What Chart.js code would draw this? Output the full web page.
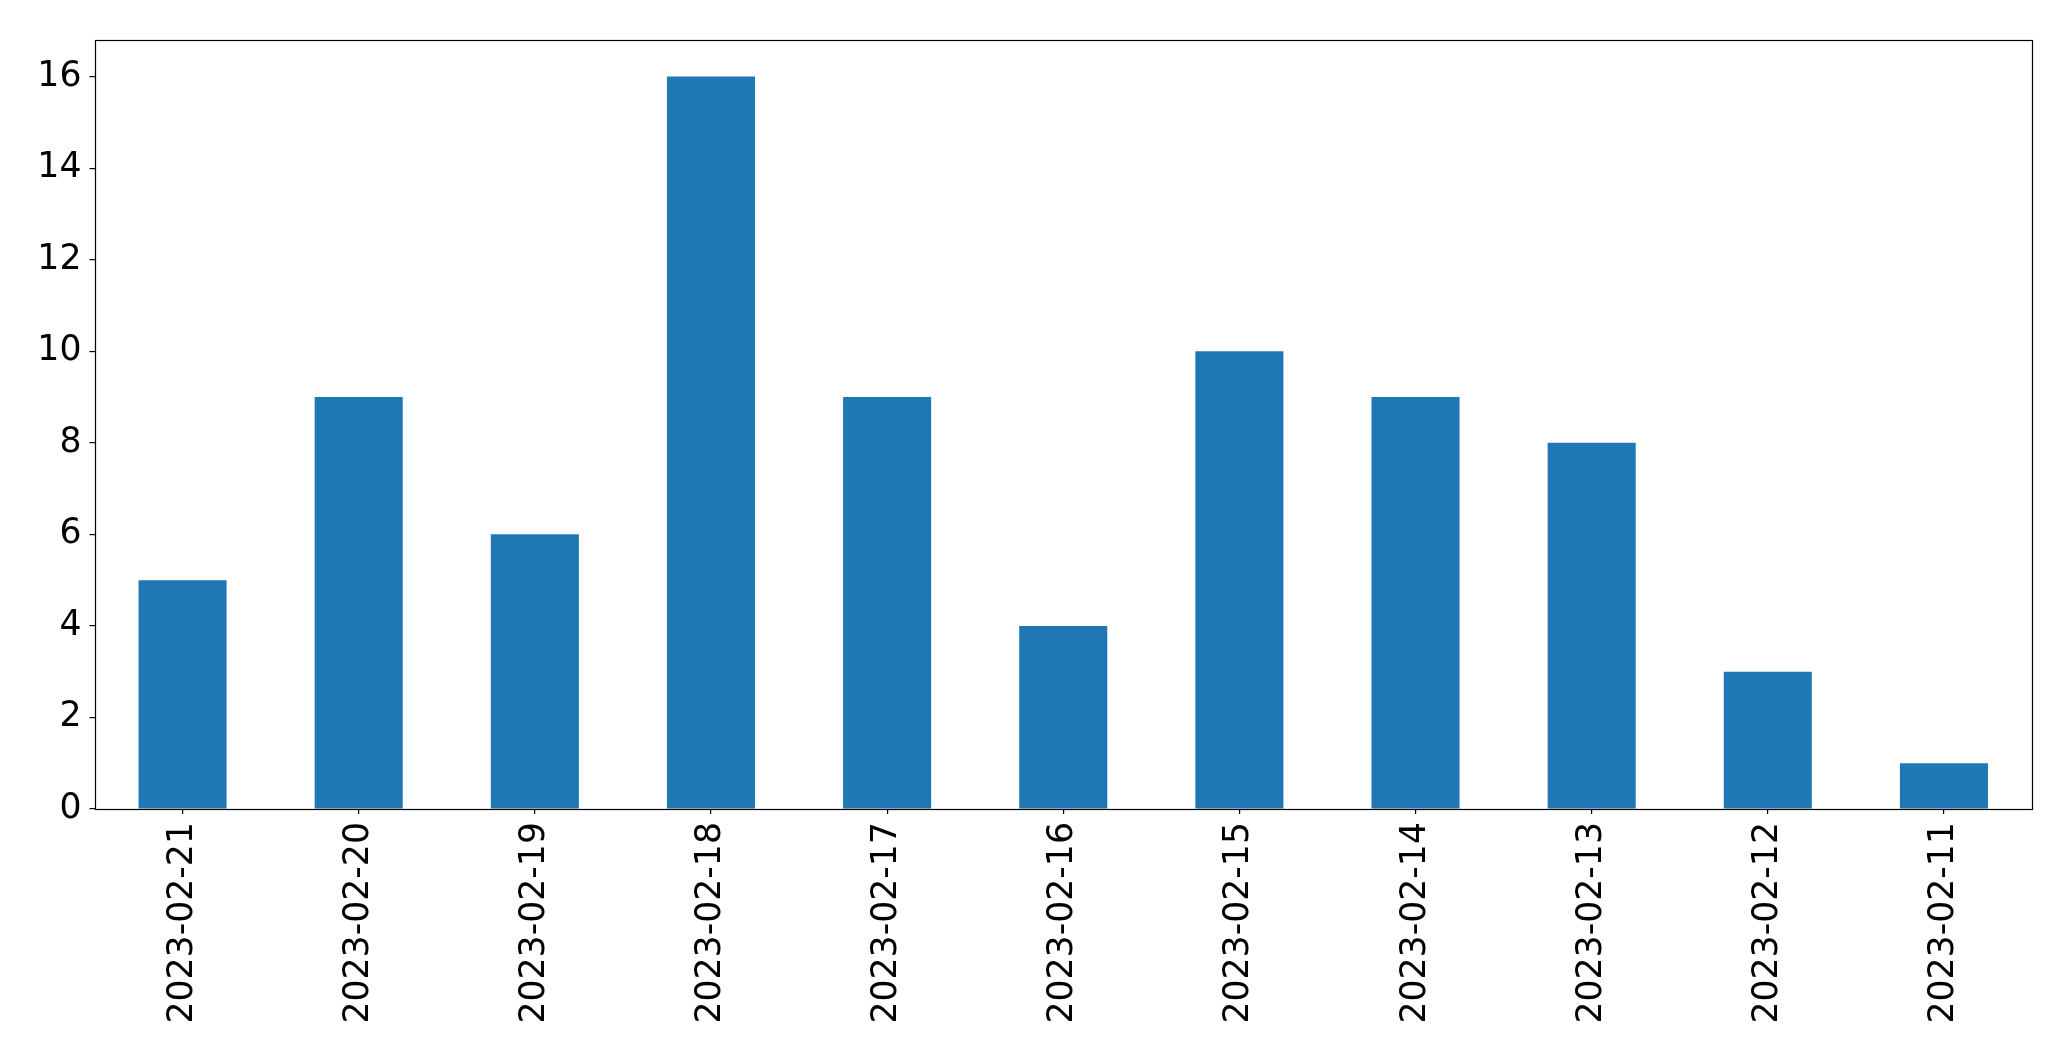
<!DOCTYPE html>
<html>
<head>
<meta charset="utf-8">
<script src="https://cdn.jsdelivr.net/npm/chart.js@4/dist/chart.umd.min.js"></script>
<style>
  html, body { margin: 0; padding: 0; background: #fff; }
  canvas { display: block; }
</style>
</head>
<body>
<canvas id="graph" width="2071" height="1061"></canvas>
<script>
var dates = ["2023-02-21", "2023-02-20", "2023-02-19", "2023-02-18",
  "2023-02-17", "2023-02-16", "2023-02-15", "2023-02-14",
  "2023-02-13", "2023-02-12", "2023-02-11"];
var counts = [5, 9, 6, 16, 9, 4, 10, 9, 8, 3, 1];
var yTicks = [0, 2, 4, 6, 8, 10, 12, 14, 16];

// box around the plot area, like matplotlib spines
var frame = {
  id: 'frame',
  afterDraw: function(chart) {
    var a = chart.chartArea, c = chart.ctx;
    var l = Math.round(a.left) + 0.5, t = Math.round(a.top) + 0.5;
    var r = Math.round(a.right) + 0.5, b = Math.round(a.bottom) + 0.5;
    c.save();
    c.strokeStyle = '#000';
    c.lineWidth = 1.2;
    c.strokeRect(l, t, r - l, b - t);
    c.restore();
  }
};

var ctx = document.getElementById("graph").getContext('2d');

var chart = new Chart(ctx, {
  type: 'bar',
  data: {
    labels: dates,
    datasets: [{
      data: counts,
      backgroundColor: '#1f77b4',
      borderWidth: 0,
      barPercentage: 0.5,
      categoryPercentage: 1.0
    }]
  },
  options: {
    responsive: false,
    animation: false,
    layout: { padding: { top: 40, right: 39, left: 0, bottom: 0 } },
    plugins: { legend: { display: false }, tooltip: { enabled: false } },
    scales: {
      x: {
        grid: { offset: false, drawOnChartArea: false, drawTicks: true, tickLength: 5, color: '#000', lineWidth: 1.2 },
        border: { display: false },
        ticks: {
          color: '#000',
          font: { family: 'DejaVu Sans', size: 34.7 },
          maxRotation: 90, minRotation: 90,
          padding: 8,
          autoSkip: false
        },
        afterFit: function(s) { s.height = 1061 - 809; }
      },
      y: {
        min: 0,
        max: 16.8,
        grid: { drawOnChartArea: false, drawTicks: true, tickLength: 5, color: '#000', lineWidth: 1.2 },
        border: { display: false },
        ticks: {
          color: '#000',
          font: { family: 'DejaVu Sans', size: 34.7 },
          padding: 8,
          stepSize: 2
        },
        afterBuildTicks: function(s) {
          s.ticks = yTicks.map(function(v) { return { value: v }; });
        },
        afterFit: function(s) { s.width = 94.5; }
      }
    }
  },
  plugins: [frame]
});
</script>
</body>
</html>
